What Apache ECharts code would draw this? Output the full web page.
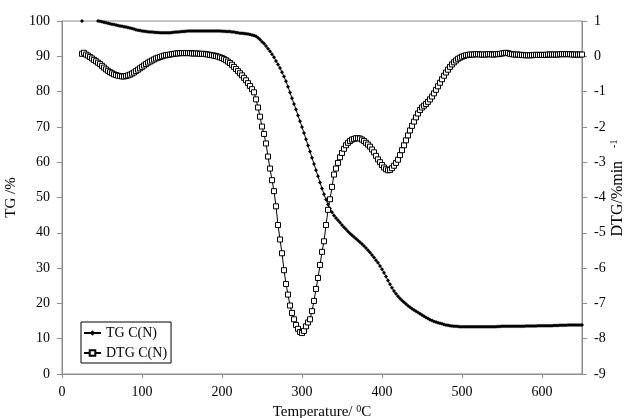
<!DOCTYPE html>
<html>
<head>
<meta charset="utf-8">
<script src="https://cdn.jsdelivr.net/npm/echarts@6/dist/echarts.min.js"></script>
<style>
  html, body { margin: 0; padding: 0; background: #fff; }
  #chart { width: 625px; height: 418px; }
</style>
</head>
<body>
<div id="chart"></div>
<script>
  // temperatures (°C), one row per 25 °C
  let temps = [
    25, 27.5, 30, 32.5, 35, 37.5, 40, 42.5, 45, 47.5,
    50, 52.5, 55, 57.5, 60, 62.5, 65, 67.5, 70, 72.5,
    75, 77.5, 80, 82.5, 85, 87.5, 90, 92.5, 95, 97.5,
    100, 102.5, 105, 107.5, 110, 112.5, 115, 117.5, 120, 122.5,
    125, 127.5, 130, 132.5, 135, 137.5, 140, 142.5, 145, 147.5,
    150, 152.5, 155, 157.5, 160, 162.5, 165, 167.5, 170, 172.5,
    175, 177.5, 180, 182.5, 185, 187.5, 190, 192.5, 195, 197.5,
    200, 202.5, 205, 207.5, 210, 212.5, 215, 217.5, 220, 222.5,
    225, 227.5, 230, 232.5, 235, 237.5, 240, 242.5, 245, 247.5,
    250, 252.5, 255, 257.5, 260, 262.5, 265, 267.5, 270, 272.5,
    275, 277.5, 280, 282.5, 285, 287.5, 290, 292.5, 295, 297.5,
    300, 302.5, 305, 307.5, 310, 312.5, 315, 317.5, 320, 322.5,
    325, 327.5, 330, 332.5, 335, 337.5, 340, 342.5, 345, 347.5,
    350, 352.5, 355, 357.5, 360, 362.5, 365, 367.5, 370, 372.5,
    375, 377.5, 380, 382.5, 385, 387.5, 390, 392.5, 395, 397.5,
    400, 402.5, 405, 407.5, 410, 412.5, 415, 417.5, 420, 422.5,
    425, 427.5, 430, 432.5, 435, 437.5, 440, 442.5, 445, 447.5,
    450, 452.5, 455, 457.5, 460, 462.5, 465, 467.5, 470, 472.5,
    475, 477.5, 480, 482.5, 485, 487.5, 490, 492.5, 495, 497.5,
    500, 502.5, 505, 507.5, 510, 512.5, 515, 517.5, 520, 522.5,
    525, 527.5, 530, 532.5, 535, 537.5, 540, 542.5, 545, 547.5,
    550, 552.5, 555, 557.5, 560, 562.5, 565, 567.5, 570, 572.5,
    575, 577.5, 580, 582.5, 585, 587.5, 590, 592.5, 595, 597.5,
    600, 602.5, 605, 607.5, 610, 612.5, 615, 617.5, 620, 622.5,
    625, 627.5, 630, 632.5, 635, 637.5, 640, 642.5, 645, 647.5,
    650
  ];

  // TG (%), left axis
  let tgValues = [
    100, null, null, null, null, null, null, null, 100, 99.9,
    99.8, 99.65, 99.5, 99.35, 99.2, 99.1, 99.0, 98.85, 98.7, 98.6,
    98.5, 98.4, 98.3, 98.15, 98.0, 97.85, 97.7, 97.55, 97.4, 97.3,
    97.2, 97.1, 97.0, 96.95, 96.9, 96.85, 96.8, 96.75, 96.75, 96.7,
    96.7, 96.7, 96.7, 96.7, 96.7, 96.75, 96.8, 96.85, 96.9, 96.95,
    97.0, 97.05, 97.1, 97.15, 97.2, 97.2, 97.2, 97.2, 97.2, 97.2,
    97.2, 97.2, 97.2, 97.2, 97.2, 97.2, 97.2, 97.2, 97.2, 97.15,
    97.1, 97.1, 97.05, 97.0, 97.0, 96.9, 96.85, 96.75, 96.65, 96.55,
    96.5, 96.45, 96.4, 96.3, 96.2, 96.05, 95.9, 95.65, 95.25, 94.75,
    94.1, 93.6, 92.9, 92.15, 91.4, 90.6, 89.7, 88.7, 87.7, 86.7,
    85.5, 84.25, 82.9, 81.4, 79.75, 78.1, 76.5, 74.9, 73.25, 71.6,
    70.0, 68.25, 66.5, 64.75, 63.0, 61.25, 59.5, 57.75, 56.0, 54.25,
    52.55, 50.9, 49.4, 48.0, 46.85, 45.85, 44.9, 44.2, 43.55, 42.9,
    42.2, 41.6, 41.0, 40.4, 39.8, 39.3, 38.8, 38.3, 37.8, 37.3,
    36.8, 36.25, 35.7, 35.05, 34.4, 33.7, 33.0, 32.25, 31.5, 30.6,
    29.7, 28.65, 27.6, 26.5, 25.4, 24.4, 23.5, 22.7, 22.0, 21.4,
    20.8, 20.3, 19.8, 19.35, 18.9, 18.5, 18.1, 17.75, 17.4, 17.05,
    16.7, 16.35, 16.0, 15.7, 15.4, 15.15, 14.9, 14.7, 14.5, 14.35,
    14.2, 14.05, 13.9, 13.8, 13.7, 13.6, 13.55, 13.5, 13.45, 13.4,
    13.4, 13.4, 13.4, 13.4, 13.4, 13.4, 13.4, 13.4, 13.4, 13.4,
    13.4, 13.4, 13.4, 13.4, 13.4, 13.4, 13.4, 13.4, 13.45, 13.45,
    13.5, 13.5, 13.5, 13.5, 13.5, 13.5, 13.5, 13.55, 13.55, 13.55,
    13.55, 13.55, 13.6, 13.6, 13.6, 13.6, 13.6, 13.6, 13.65, 13.65,
    13.65, 13.65, 13.7, 13.7, 13.7, 13.7, 13.75, 13.75, 13.75, 13.8,
    13.8, 13.8, 13.8, 13.85, 13.85, 13.85, 13.9, 13.9, 13.9, 13.9,
    13.9
  ];

  // DTG (%/min), right axis
  let dtgValues = [
    0.07, 0.10, 0.05, 0.02, -0.02, -0.06, -0.10, -0.14, -0.18, -0.22,
    -0.27, -0.32, -0.37, -0.41, -0.45, -0.48, -0.51, -0.53, -0.55, -0.56,
    -0.57, -0.57, -0.56, -0.54, -0.52, -0.49, -0.46, -0.42, -0.38, -0.34,
    -0.30, -0.26, -0.22, -0.18, -0.15, -0.12, -0.09, -0.06, -0.04, -0.02,
    0.00, 0.02, 0.03, 0.04, 0.05, 0.06, 0.07, 0.08, 0.08, 0.09,
    0.09, 0.09, 0.09, 0.09, 0.09, 0.08, 0.08, 0.08, 0.08, 0.07,
    0.07, 0.07, 0.06, 0.05, 0.04, 0.03, 0.02, 0.01, -0.01, -0.03,
    -0.05, -0.08, -0.11, -0.15, -0.19, -0.24, -0.30, -0.36, -0.42, -0.48,
    -0.54, -0.61, -0.68, -0.76, -0.84, -0.93, -1.02, -1.22, -1.45, -1.71,
    -1.99, -2.20, -2.47, -2.84, -3.18, -3.51, -3.82, -4.25, -4.78, -5.19,
    -5.58, -6.06, -6.45, -6.75, -7.06, -7.27, -7.45, -7.61, -7.72, -7.81,
    -7.84, -7.78, -7.65, -7.54, -7.45, -7.22, -6.93, -6.59, -6.28, -5.91,
    -5.54, -5.24, -4.78, -4.35, -4.05, -3.70, -3.35, -3.18, -3.02, -2.86,
    -2.74, -2.62, -2.52, -2.45, -2.40, -2.36, -2.34, -2.32, -2.32, -2.33,
    -2.36, -2.40, -2.45, -2.50, -2.56, -2.64, -2.72, -2.82, -2.92, -3.00,
    -3.08, -3.15, -3.20, -3.23, -3.22, -3.17, -3.10, -3.02, -2.93, -2.80,
    -2.66, -2.52, -2.38, -2.24, -2.10, -1.97, -1.85, -1.73, -1.62, -1.52,
    -1.45, -1.40, -1.35, -1.29, -1.22, -1.14, -1.05, -0.95, -0.85, -0.75,
    -0.65, -0.55, -0.46, -0.38, -0.30, -0.23, -0.17, -0.12, -0.07, -0.04,
    -0.01, 0.01, 0.03, 0.04, 0.05, 0.05, 0.05, 0.06, 0.06, 0.05,
    0.05, 0.05, 0.05, 0.06, 0.06, 0.05, 0.05, 0.06, 0.06, 0.07,
    0.08, 0.09, 0.10, 0.09, 0.07, 0.06, 0.05, 0.05, 0.05, 0.04,
    0.04, 0.03, 0.03, 0.03, 0.03, 0.03, 0.04, 0.04, 0.04, 0.04,
    0.04, 0.04, 0.04, 0.05, 0.05, 0.05, 0.05, 0.05, 0.05, 0.06,
    0.06, 0.06, 0.06, 0.06, 0.06, 0.05, 0.05, 0.05, 0.05, 0.05,
    0.05
  ];

  let serif = '"Liberation Serif", "Times New Roman", serif';
  let axisGray = '#8c8c8c';

  let pairs = (xs, ys) => xs.map((x, i) => [x, ys[i] === null ? '-' : ys[i]]);

  let chart = echarts.init(document.getElementById('chart'));
  chart.setOption({
    animation: false,
    backgroundColor: '#fff',
    textStyle: { fontFamily: serif, color: '#000' },
    grid: {
      left: 62, right: 43, top: 21, bottom: 44,
      outerBoundsMode: 'none',
      show: true, borderColor: axisGray, borderWidth: 1
    },
    // right axis title, placed by hand (axis name would not sit where the original has it)
    graphic: [
      {
        type: 'text',
        x: 618, y: 188,
        rotation: Math.PI / 2,
        style: {
          text: '{a|DTG/%min}{s|-1}',
          align: 'center',
          verticalAlign: 'middle',
          rich: {
            a: { fontFamily: serif, fontSize: 16, fill: '#000' },
            s: { fontFamily: serif, fontSize: 10, fill: '#000', verticalAlign: 'top', padding: [0, 0, 8, 13] }
          }
        }
      }
    ],
    legend: {
      orient: 'vertical',
      left: 81, top: 322,
      padding: [3, 4, 2, 2],
      itemGap: 4,
      itemWidth: 17,
      itemHeight: 7,
      borderColor: '#000',
      borderWidth: 1,
      backgroundColor: '#fff',
      textStyle: { fontFamily: serif, fontSize: 14, lineHeight: 16, color: '#000' },
      data: ['TG C(N)', 'DTG C(N)']
    },
    xAxis: {
      type: 'value',
      min: 0, max: 650, interval: 100,
      name: '{a|Temperature/ }{s|0}{a|C}',
      nameLocation: 'middle',
      nameGap: 28,
      nameTextStyle: {
        rich: {
          a: { fontFamily: serif, fontSize: 15, color: '#000' },
          s: { fontFamily: serif, fontSize: 10, color: '#000', verticalAlign: 'top', padding: [0, 0, 7, 0] }
        }
      },
      axisLine: { lineStyle: { color: axisGray } },
      axisTick: { length: 4, lineStyle: { color: axisGray } },
      axisLabel: { fontFamily: serif, fontSize: 14, color: '#000', margin: 11, showMaxLabel: false },
      splitLine: { show: false }
    },
    yAxis: [
      {
        type: 'value',
        min: 0, max: 100, interval: 10,
        name: 'TG /%',
        nameLocation: 'middle',
        nameGap: 36,
        nameRotate: 90,
        nameTextStyle: { fontFamily: serif, fontSize: 15, color: '#000' },
        axisLine: { show: true, lineStyle: { color: axisGray } },
        axisTick: { show: true, length: 5, lineStyle: { color: axisGray } },
        axisLabel: { fontFamily: serif, fontSize: 14, color: '#000', margin: 12 },
        splitLine: { show: false }
      },
      {
        type: 'value',
        position: 'right',
        min: -9, max: 1, interval: 1,
        axisLine: { show: true, lineStyle: { color: axisGray } },
        axisTick: { show: true, length: 5, lineStyle: { color: axisGray } },
        axisLabel: { fontFamily: serif, fontSize: 14, color: '#000', margin: 12 },
        splitLine: { show: false }
      }
    ],
    series: [
      {
        name: 'TG C(N)',
        type: 'line',
        yAxisIndex: 0,
        data: pairs(temps, tgValues),
        symbol: 'diamond',
        symbolSize: 4,
        showAllSymbol: true,
        lineStyle: { color: '#000', width: 1 },
        itemStyle: { color: '#000', borderColor: '#000', borderWidth: 0 }
      },
      {
        name: 'DTG C(N)',
        type: 'line',
        yAxisIndex: 1,
        data: pairs(temps, dtgValues),
        symbol: 'rect',
        symbolSize: 5,
        showAllSymbol: true,
        lineStyle: { color: '#000', width: 1 },
        itemStyle: { color: '#fff', borderColor: '#000', borderWidth: 1 }
      }
    ]
  });
</script>
</body>
</html>
